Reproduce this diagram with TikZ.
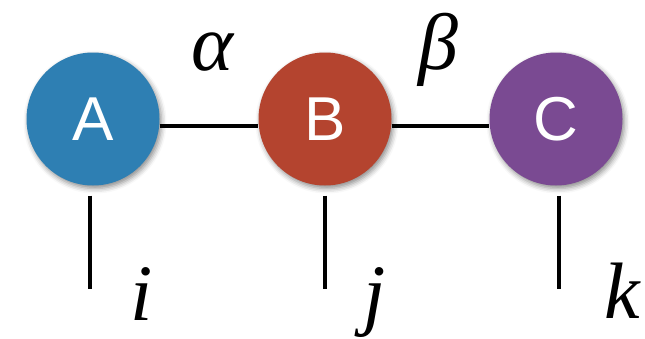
\documentclass[tikz,border=0pt]{standalone}
\usepackage{fontspec}
\setmainfont{Liberation Serif}
\newfontfamily\lettersans{Liberation Sans}
\usetikzlibrary{shadows.blur}
\definecolor{tblue}{HTML}{2E7FB3}
\definecolor{tred}{HTML}{B4442F}
\definecolor{tpurple}{HTML}{7A4A92}
\tikzset{
  tensor/.style={circle, minimum size=133pt, inner sep=0pt, text=white,
    font=\lettersans\fontsize{62}{62}\selectfont,
    blur shadow={shadow xshift=2pt, shadow yshift=-3pt, shadow blur radius=5pt, shadow opacity=45}},
  bond/.style={line width=4.5pt},
  idx/.style={font=\itshape\fontsize{80}{80}\selectfont, inner sep=0pt},
}
\begin{document}
\begin{tikzpicture}[x=1pt,y=-1pt]
\useasboundingbox (0,0) rectangle (645,338);
\node[tensor, fill=tblue] (A) at (93,119) {A};
\node[tensor, fill=tred] (B) at (325,119) {B};
\node[tensor, fill=tpurple] (C) at (556,119) {C};
\draw[bond] ([yshift=-7pt]A.east) -- ([yshift=-7pt]B.west);
\draw[bond] ([yshift=-7pt]B.east) -- ([yshift=-7pt]C.west);
\draw[bond] ([xshift=-3pt,yshift=-10pt]A.south) coordinate (ai) -- ++(0,93) coordinate (ie);
\draw[bond] ([xshift=0pt,yshift=-10pt]B.south) coordinate (bj) -- ++(0,93) coordinate (je);
\draw[bond] ([xshift=3pt,yshift=-10pt]C.south) coordinate (ck) -- ++(0,93) coordinate (ke);
\node[idx] (alpha) at (212,52) {α};
\node[idx] (beta) at (438,50) {β};
\node[idx, anchor=base] (i) at (142,320) {i};
\node[idx, anchor=base] (j) at (375,320) {j};
\node[idx, anchor=base] (k) at (622,318) {k};
\end{tikzpicture}
\end{document}
